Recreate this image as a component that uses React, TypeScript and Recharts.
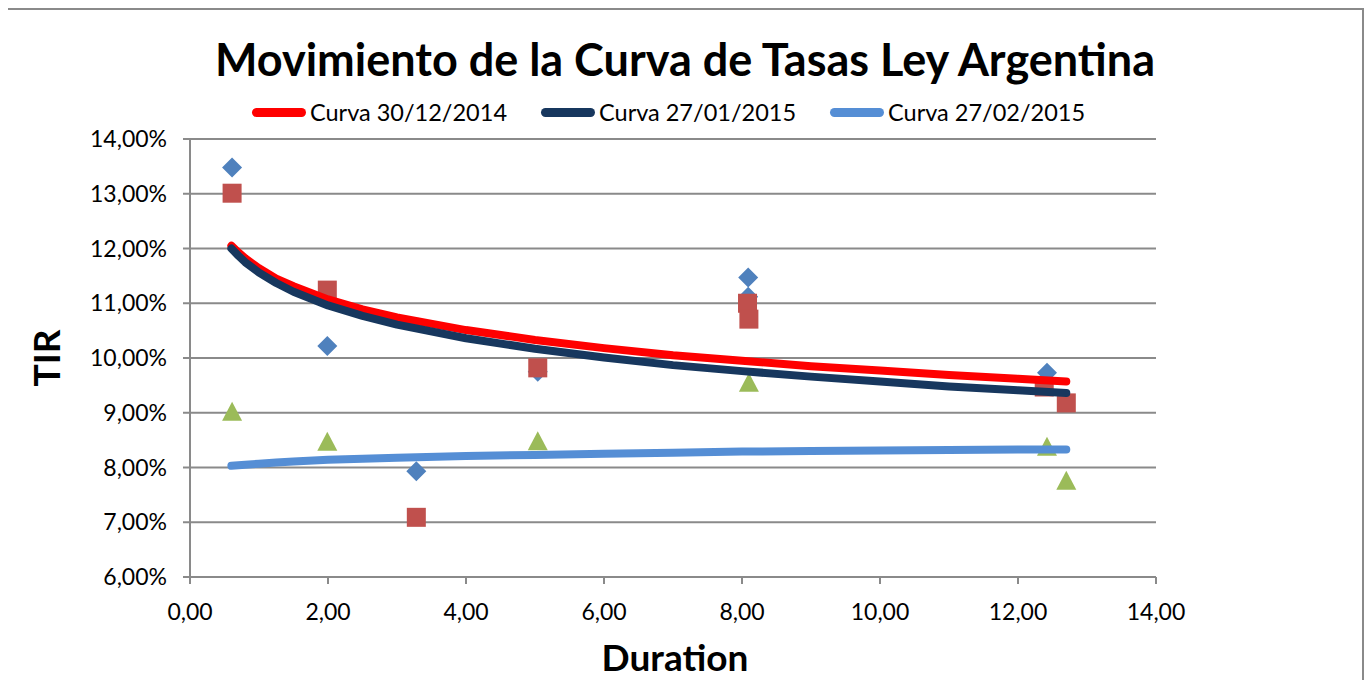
import React from "react";
import { ScatterChart, Scatter, XAxis, YAxis, CartesianGrid } from "recharts";

// observed bond yields (duration, TIR %)
const diamondPts = [
  { x: 0.61, y: 13.48 },
  { x: 1.99, y: 10.22 },
  { x: 3.28, y: 7.93 },
  { x: 5.04, y: 9.75 },
  { x: 8.09, y: 11.47 },
  { x: 8.09, y: 11.12 },
  { x: 12.42, y: 9.73 },
];
const squarePts = [
  { x: 0.61, y: 13.01 },
  { x: 1.99, y: 11.24 },
  { x: 3.28, y: 7.09 },
  { x: 5.04, y: 9.82 },
  { x: 8.08, y: 11.0 },
  { x: 8.1, y: 10.71 },
  { x: 12.38, y: 9.47 },
  { x: 12.7, y: 9.18 },
];
const trianglePts = [
  { x: 0.61, y: 9.02 },
  { x: 1.99, y: 8.47 },
  { x: 5.04, y: 8.48 },
  { x: 8.1, y: 9.55 },
  { x: 12.42, y: 8.38 },
  { x: 12.7, y: 7.76 },
];

// trend curves
const curveX = [0.6, 0.7, 0.8, 1, 1.25, 1.5, 2, 2.5, 3, 4, 5, 6, 7, 8, 9, 10, 11, 12, 12.7];
const curve1 = [12.05, 11.93, 11.82, 11.64, 11.45, 11.31, 11.07, 10.89, 10.74, 10.51, 10.33, 10.18, 10.05, 9.95, 9.85, 9.77, 9.69, 9.62, 9.57];
const curve2 = [12.0, 11.87, 11.75, 11.56, 11.37, 11.21, 10.96, 10.77, 10.61, 10.36, 10.17, 10.01, 9.87, 9.76, 9.66, 9.57, 9.48, 9.41, 9.36];
const curve3 = [8.03, 8.04, 8.05, 8.07, 8.09, 8.11, 8.14, 8.16, 8.18, 8.21, 8.23, 8.25, 8.27, 8.29, 8.3, 8.31, 8.32, 8.33, 8.33];

const xTicks = [0, 2, 4, 6, 8, 10, 12, 14];
const yTicks = [6, 7, 8, 9, 10, 11, 12, 13, 14];

const legendItems = [
  { name: "Curva 30/12/2014", color: "#FF0000" },
  { name: "Curva 27/01/2015", color: "#17375E" },
  { name: "Curva 27/02/2015", color: "#558ED5" },
];

const toPts = (ys: number[]) => curveX.map((x, i) => ({ x, y: ys[i] }));

const fmt = (v: number) => v.toFixed(2).replace(".", ",");

const Diamond = (p: any) => {
  const { cx, cy } = p;
  const r = 10;
  return <polygon points={`${cx},${cy - r} ${cx + r},${cy} ${cx},${cy + r} ${cx - r},${cy}`} fill="#4F81BD" />;
};
const Square = (p: any) => <rect x={p.cx - 9.5} y={p.cy - 9.5} width={19} height={19} fill="#C0504D" />;
const Triangle = (p: any) => {
  const { cx, cy } = p;
  return <polygon points={`${cx},${cy - 10} ${cx + 10},${cy + 9} ${cx - 10},${cy + 9}`} fill="#9BBB59" />;
};
const NoDot = () => <g />;

const grey = "#8a8a8a";
const font = "Lato, 'Open Sans', sans-serif";

export default function App() {
  return (
    <div
      style={{
        position: "relative",
        width: 1358,
        height: 700,
        marginLeft: -2,
        border: `2px solid ${grey}`,
        boxSizing: "border-box",
        fontFamily: font,
        background: "#fff",
        overflow: "hidden",
      }}
    >
      <div
        style={{
          position: "absolute",
          left: 0,
          width: 1354,
          top: 22,
          textAlign: "center",
          fontSize: 45,
          fontWeight: 700,
          color: "#000",
        }}
      >
        Movimiento de la Curva de Tasas Ley Argentina
      </div>

      <div style={{ position: "absolute", left: 244, top: 88, display: "flex", alignItems: "center", fontSize: 23.5 }}>
        {legendItems.map((it, i) => (
          <div key={it.name} style={{ display: "flex", alignItems: "center", marginRight: i < 2 ? 34 : 0 }}>
            <div style={{ width: 54, height: 9, borderRadius: 5, background: it.color, marginRight: 4 }} />
            <span>{it.name}</span>
          </div>
        ))}
      </div>

      <div
        style={{
          position: "absolute",
          left: 37,
          top: 348,
          transform: "translate(-50%, -50%) rotate(-90deg)",
          fontSize: 37,
          fontWeight: 700,
        }}
      >
        TIR
      </div>
      <div
        style={{
          position: "absolute",
          left: 667,
          top: 646,
          transform: "translate(-50%, -50%)",
          fontSize: 37,
          fontWeight: 700,
        }}
      >
        Duration
      </div>

      <div style={{ position: "absolute", left: 0, top: 0 }}>
        <ScatterChart width={1354} height={688} margin={{ top: 129, right: 206, left: 82, bottom: 61 }}>
          <CartesianGrid vertical={false} stroke={grey} strokeWidth={2} />
          <XAxis
            type="number"
            dataKey="x"
            domain={[0, 14]}
            ticks={xTicks}
            tickFormatter={fmt}
            height={60}
            stroke={grey}
            strokeWidth={2}
            tickSize={7}
            tickMargin={20}
            tick={{ fill: "#000", fontSize: 23, fontFamily: font }}
            allowDataOverflow
          />
          <YAxis
            type="number"
            dataKey="y"
            domain={[6, 14]}
            ticks={yTicks}
            tickFormatter={(v: number) => fmt(v) + "%"}
            width={100}
            stroke={grey}
            strokeWidth={2}
            tickSize={7}
            tickMargin={16}
            tick={{ fill: "#000", fontSize: 23, fontFamily: font }}
            allowDataOverflow
          />
          <Scatter data={diamondPts} shape={Diamond} isAnimationActive={false} />
          <Scatter data={squarePts} shape={Square} isAnimationActive={false} />
          <Scatter data={trianglePts} shape={Triangle} isAnimationActive={false} />
          <Scatter
            data={toPts(curve1)}
            shape={NoDot}
            line={{ stroke: "#FF0000", strokeWidth: 8, strokeLinecap: "round", strokeLinejoin: "round" }}
            lineType="joint"
            isAnimationActive={false}
          />
          <Scatter
            data={toPts(curve2)}
            shape={NoDot}
            line={{ stroke: "#17375E", strokeWidth: 8, strokeLinecap: "round", strokeLinejoin: "round" }}
            lineType="joint"
            isAnimationActive={false}
          />
          <Scatter
            data={toPts(curve3)}
            shape={NoDot}
            line={{ stroke: "#558ED5", strokeWidth: 8, strokeLinecap: "round", strokeLinejoin: "round" }}
            lineType="joint"
            isAnimationActive={false}
          />
        </ScatterChart>
      </div>
    </div>
  );
}
